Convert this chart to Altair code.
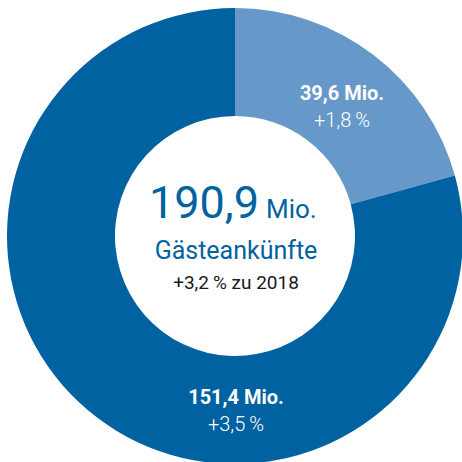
import altair as alt
import pandas as pd

categories = ["A", "B"]
values = [39.6, 151.4]
value_labels = ["39,6 Mio.", "151,4 Mio."]
change_labels = ["+1,8\u2009%", "+3,5\u2009%"]
colors = ["#6699c9", "#0062a1"]

total_label = "190,9"
total_unit = "Mio."
center_title = "Gästeankünfte"
center_sub = "+3,2\u2009% zu 2018"

df = pd.DataFrame({"cat": categories, "value": values, "order": [0, 1]})

FONT = "Roboto"
CX, CY = 235, 236

base = alt.Chart(df)

donut = base.mark_arc(radius=228, radius2=120, stroke=None).encode(
    theta=alt.Theta("value:Q", stack=True),
    order=alt.Order("order:Q"),
    color=alt.Color("cat:N", scale=alt.Scale(domain=categories, range=colors), legend=None),
    x=alt.value(CX),
    y=alt.value(CY),
)

def txt(text, x, y, size, color, weight="normal", align="center"):
    return alt.Chart(pd.DataFrame({"t": [text]})).mark_text(
        font=FONT, fontSize=size, color=color, fontWeight=weight, align=align, baseline="alphabetic"
    ).encode(text="t:N", x=alt.value(x), y=alt.value(y))

layers = [
    donut,
    txt(value_labels[0], 342, 100, 20, "white", "bold"),
    txt(change_labels[0], 342, 127, 20, "white", 300),
    txt(value_labels[1], 236, 404, 20, "white", "bold"),
    txt(change_labels[1], 236, 431, 20, "white", 300),
    txt(total_label, 259, 218, 45, "#0062a1", align="right"),
    txt(total_unit, 266, 218, 26, "#0062a1", align="left"),
    txt(center_title, 236, 259, 25, "#0062a1"),
    txt(center_sub, 236, 289, 19, "#1a1a1a"),
]

chart = alt.layer(*layers).properties(
    width=462, height=462, padding=0, autosize=alt.AutoSizeParams(type="none")
).configure_view(stroke=None)

chart.save("out.html", embed_options={"renderer": "svg", "actions": False})
